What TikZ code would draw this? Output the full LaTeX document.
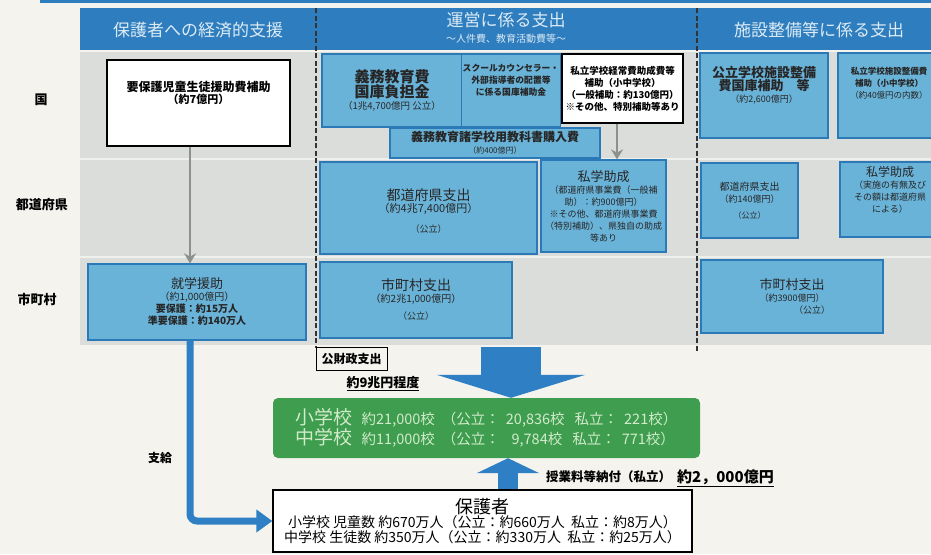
\documentclass[tikz,border=0pt]{standalone}
\usepackage{fontspec}
\setmainfont{Noto Sans CJK JP}
\usetikzlibrary{arrows.meta}
\definecolor{pagebg}{HTML}{F4F3EE}
\definecolor{hdrblue}{HTML}{2E7DBE}
\definecolor{hdrtext}{HTML}{DCEBF5}
\definecolor{graybg}{HTML}{DADDD9}
\definecolor{boxfill}{HTML}{6AB3D8}
\definecolor{boxline}{HTML}{2B79B6}
\definecolor{arrowblue}{HTML}{2F7FC4}
\definecolor{greenbox}{HTML}{3E9D4E}
\definecolor{greentext}{HTML}{D2EBCB}
\definecolor{grayarrow}{HTML}{8C918D}
\newcommand\fsz[2]{\fontsize{#1}{#2}\selectfont}
\begin{document}
\begin{tikzpicture}[x=1pt,y=-1pt,
  hdr/.style={text=hdrtext, font=\fsz{17}{20}},
  hdrsub/.style={text=hdrtext, font=\fsz{10}{12}},
  rowlabel/.style={text=black, font=\fsz{13}{16}\bfseries},
  bluebox/.style={draw=boxline, fill=boxfill, line width=1.3pt, inner sep=1pt, align=center, text=black!85},
  whitebox/.style={draw=black, fill=white, line width=1.3pt, inner sep=1pt, align=center, text=black},
  sepline/.style={dash pattern=on 5pt off 2.5pt, line width=1.3pt, black!80},
  grayarr/.style={grayarrow, line width=2pt, -{Stealth[length=10pt,width=12pt]}},
  bigarr/.style={arrowblue, line width=7pt, rounded corners=7pt, -{Triangle[length=16pt,width=22pt]}},
]
\useasboundingbox (0,0) rectangle (931,554);
\fill[pagebg] (0,0) rectangle (931,554);
% header band and gray area
\fill[hdrblue] (40,0) rectangle (931,3);
\fill[hdrblue] (80,8) rectangle (931,50);
\fill[graybg] (80,52) rectangle (931,345);
\draw[white!55!graybg, line width=2pt] (80,159) -- (931,159);
\draw[white!55!graybg, line width=2pt] (80,257) -- (931,257);
\draw[sepline] (316,8) -- (316,348);
\draw[sepline] (697,8) -- (697,352);

% headers
\node[hdr] (h1) at (198,30) {保護者への経済的支援};
\node[hdr] (h2) at (506,20) {運営に係る支出};
\node[hdrsub] (h2s) at (506,39) {〜人件費、教育活動費等〜};
\node[hdr] (h3) at (819,30) {施設整備等に係る支出};

% row labels
\node[rowlabel] (r1) at (41,100) {国};
\node[rowlabel] (r2) at (42,205) {都道府県};
\node[rowlabel] (r3) at (37,300) {市町村};

% column 1
\node[whitebox, minimum width=183pt, minimum height=86pt] (kokko1) at (198.5,103)
  {\fsz{12}{19}\bfseries 要保護児童生徒援助費補助\\\fsz{11}{19}\bfseries （約7億円）\\[10pt]};
\node[bluebox, minimum width=218pt, minimum height=76pt] (shugaku) at (197,302)
  {\fsz{13}{16}就学援助\\\fsz{10}{13}（約1,000億円）\\\fsz{10}{13}\bfseries 要保護：約15万人\\\fsz{10}{13}\bfseries 準要保護：約140万人};
\coordinate (ga1) at (190,0);
\draw[grayarr] (kokko1.south -| ga1) -- (shugaku.north -| ga1);

% column 2
\node[bluebox, minimum width=140pt, minimum height=73pt] (gimu) at (392,90.5)
  {\fsz{15}{19}\bfseries 義務教育費\\\fsz{15}{19}\bfseries 国庫負担金\\\fsz{9.5}{11}（1兆4,700億円 公立）};
\node[bluebox, minimum width=98pt, minimum height=73pt] (sc) at (511,90.5)
  {\fsz{8.8}{12}\bfseries スクールカウンセラー・\\\fsz{8.8}{12}\bfseries 外部指導者の配置等\\\fsz{8.8}{12}\bfseries に係る国庫補助金\\[10pt]};
\node[whitebox, minimum width=121pt, minimum height=69pt] (shiritsu) at (622.5,88.5)
  {\fsz{9.5}{13}\bfseries 私立学校経常費助成費等\\\fsz{9.5}{13}\bfseries 補助（小中学校）\\\fsz{9.5}{13}\bfseries （一般補助：約130億円）\\\fsz{9.5}{13}\bfseries ※その他、特別補助等あり};
\node[bluebox, minimum width=210pt, minimum height=30pt] (textbook) at (495,143)
  {\fsz{12}{14}\bfseries 義務教育諸学校用教科書購入費\\\fsz{8}{10}（約400億円）};
\node[bluebox, minimum width=217pt, minimum height=92pt] (todo2) at (428.5,208)
  {\\[6pt]\fsz{14}{17}都道府県支出\\\fsz{11}{14}（約4兆7,400億円）\\[8pt]\fsz{9}{11}（公立）};
\node[bluebox, minimum width=125pt, minimum height=92pt] (shigaku2) at (603.5,206)
  {\fsz{13}{16}私学助成\\\fsz{9}{12}（都道府県事業費（一般補\\\fsz{9}{12}助）：約900億円）\\\fsz{9}{12}※その他、都道府県事業費\\\fsz{9}{12}（特別補助）、県独自の助成\\\fsz{9}{12}等あり};
\coordinate (ga2) at (617,0);
\draw[grayarr] (shiritsu.south -| ga2) -- (shigaku2.north -| ga2);
\node[bluebox, minimum width=192pt, minimum height=76pt] (shichoson2) at (416,300)
  {\fsz{14}{17}市町村支出\\\fsz{10}{13}（約2兆1,000億円）\\[5pt]\fsz{9}{11}（公立）};

% column 3
\node[bluebox, minimum width=128pt, minimum height=85pt] (shisetsu) at (764,95.5)
  {\fsz{13}{17}\bfseries 公立学校施設整備\\\fsz{13}{17}\bfseries 費国庫補助　等\\\fsz{9}{11}（約2,600億円）\\[10pt]};
\node[bluebox, minimum width=102pt, minimum height=85pt] (shisetsu2) at (889,95.5)
  {\fsz{8.5}{12}\bfseries 私立学校施設整備費\\\fsz{8.5}{12}\bfseries 補助（小中学校）\\\fsz{8.5}{12}（約40億円の内数）\\[14pt]};
\node[bluebox, minimum width=97pt, minimum height=75pt] (todo3) at (749.5,200.5)
  {\fsz{10}{13}都道府県支出\\\fsz{9}{12}（約140億円）\\[4pt]\fsz{8}{10}（公立）};
\node[bluebox, minimum width=100pt, minimum height=75pt] (shigaku3) at (890,199.5)
  {\fsz{12}{15}私学助成\\\fsz{9}{12}（実施の有無及び\\\fsz{9}{12}その額は都道府県\\\fsz{9}{12}による）\\[8pt]};
\node[bluebox, minimum width=182pt, minimum height=73pt] (shichoson3) at (792,296.5)
  {\fsz{13}{16}市町村支出\\\fsz{9}{12}（約3900億円）\\\fsz{9}{12}\hspace*{40pt}（公立）};

% bottom part
\node[draw=black, line width=0.8pt, fill=pagebg, inner sep=2pt, font=\fsz{12}{14}\bfseries, minimum width=71pt, minimum height=23pt] (kozaisei) at (351.5,358.5) {公財政支出};
\node[font=\fsz{13}{15}\bfseries, inner sep=1pt] (kyu) at (383,384) {\underline{約9兆円程度}};

\node[fill=greenbox, rounded corners=5pt, minimum width=427pt, minimum height=60pt, align=left, text=greentext, inner sep=2pt] (green) at (486.5,428)
  {{\fsz{19}{22}小学校}\hspace{9pt}\fsz{14.5}{23}約21,000校\hspace{7pt}（公立：\hspace{6pt}20,836校\hspace{10pt}私立：\hspace{6pt}221校）\\
   {\fsz{19}{22}中学校}\hspace{9pt}\fsz{14.5}{23}約11,000校\hspace{7pt}（公立：\hspace{6pt}\ \,9,784校\hspace{10pt}私立：\hspace{6pt}771校）};

\coordinate (bigtop) at (511,347);
\draw[arrowblue, line width=60pt, -{Triangle[length=23pt,width=148pt]}] (bigtop) -- (green.north -| bigtop);

\node[whitebox, minimum width=419pt, minimum height=62pt, inner sep=2pt] (guardian) at (482.5,521)
  {\fsz{18}{20}保護者\\\fsz{14}{18}小学校 児童数 約670万人（公立：約660万人\ \ 私立：約8万人）\\
   \fsz{14}{18}中学校 生徒数 約350万人（公立：約330万人\ \ 私立：約25万人）};

\coordinate (uparr) at (508,0);
\draw[arrowblue, line width=20pt, -{Triangle[length=15pt,width=62pt]}] (guardian.north -| uparr) -- (green.south -| uparr);

\node[font=\fsz{12.5}{14}\bfseries, anchor=west, inner sep=0pt] (jugyo) at (546,477) {授業料等納付（私立）};
\node[font=\fsz{15}{17}\bfseries, anchor=west, inner sep=0pt] (jugyo2) at (677,478) {\underline{約2，000億円}};

\draw[bigarr] (shugaku.south -| ga1) |- (guardian.west);
\node[font=\fsz{12}{14}\bfseries] (shikyu) at (160,458) {支給};
\end{tikzpicture}
\end{document}
